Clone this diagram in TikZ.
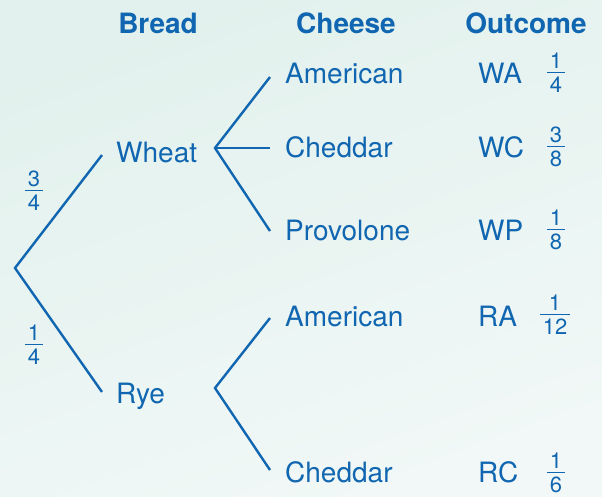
\documentclass[tikz,border=0pt]{standalone}
\usepackage{fontspec}
\usepackage{colortbl}
\setmainfont{TeX Gyre Heros}
\definecolor{treeblue}{RGB}{16,102,176}
\definecolor{bgtop}{RGB}{226,241,237}
\definecolor{bgbot}{RGB}{241,248,247}
\tikzset{
  lbl/.style={anchor=base west, inner sep=0pt, text=treeblue, font=\fontsize{28}{32}\selectfont},
  hdr/.style={anchor=base, inner sep=0pt, text=treeblue, font=\fontsize{28}{32}\selectfont\bfseries},
  frc/.style={anchor=center, inner sep=0pt, text=treeblue, font=\fontsize{22}{22}\selectfont},
  branch/.style={draw=treeblue, line width=2.4pt},
}
\newcommand{\fr}[2]{{\setlength{\arrayrulewidth}{1.3pt}%
  \arrayrulecolor{treeblue}%
  \begin{tabular}{@{\hspace{2.5pt}}c@{\hspace{2.5pt}}}#1\\[-2.6pt]\hline\rule{0pt}{19.4pt}#2\end{tabular}}}
\begin{document}
\begin{tikzpicture}[x=1pt,y=-1pt]
\useasboundingbox (0,0) rectangle (602,496);
\shade[top color=bgtop, bottom color=bgbot, shading angle=20] (0,0) rectangle (602,496);
% headers
\node[hdr] (hbread) at (158,33) {Bread};
\node[hdr] (hcheese) at (346,33) {Cheese};
\node[hdr] (hout) at (526,33) {Outcome};
% tree points
\coordinate (root) at (15,268);
\coordinate (wend) at (102,155);
\coordinate (rend) at (102,392);
\coordinate (wfork) at (215,148);
\coordinate (rfork) at (215,388);
\coordinate (wa) at (270,77);
\coordinate (wc) at (270,148);
\coordinate (wp) at (270,231);
\coordinate (ra) at (270,318);
\coordinate (rc) at (270,470);
\draw[branch] (wend) -- (root) -- (rend);
\draw[branch] (wa) -- (wfork) -- (wp);
\draw[branch] (wfork) -- (wc);
\draw[branch] (ra) -- (rfork) -- (rc);
% labels
\node[lbl] (wheat) at (116,162) {Wheat};
\node[lbl] (rye) at (116,403) {Rye};
\node[lbl] (amer1) at (285,83) {American};
\node[lbl] (ched1) at (285,157) {Cheddar};
\node[lbl] (prov) at (285,240) {Provolone};
\node[lbl] (amer2) at (285,326) {American};
\node[lbl] (ched2) at (285,482) {Cheddar};
% outcomes
\node[lbl] (oWA) at (478,83) {WA};
\node[lbl] (oWC) at (478,157) {WC};
\node[lbl] (oWP) at (478,240) {WP};
\node[lbl] (oRA) at (478,326) {RA};
\node[lbl] (oRC) at (478,482) {RC};
% fractions
\node[frc] (p34) at (34,194) {\fr{3}{4}};
\node[frc] (p14) at (34,348) {\fr{1}{4}};
\node[frc] (fWA) at (556,76) {\fr{1}{4}};
\node[frc] (fWC) at (556,150) {\fr{3}{8}};
\node[frc] (fWP) at (556,233) {\fr{1}{8}};
\node[frc] (fRA) at (555,318) {\fr{1}{12}};
\node[frc] (fRC) at (556,476) {\fr{1}{6}};
\end{tikzpicture}
\end{document}
